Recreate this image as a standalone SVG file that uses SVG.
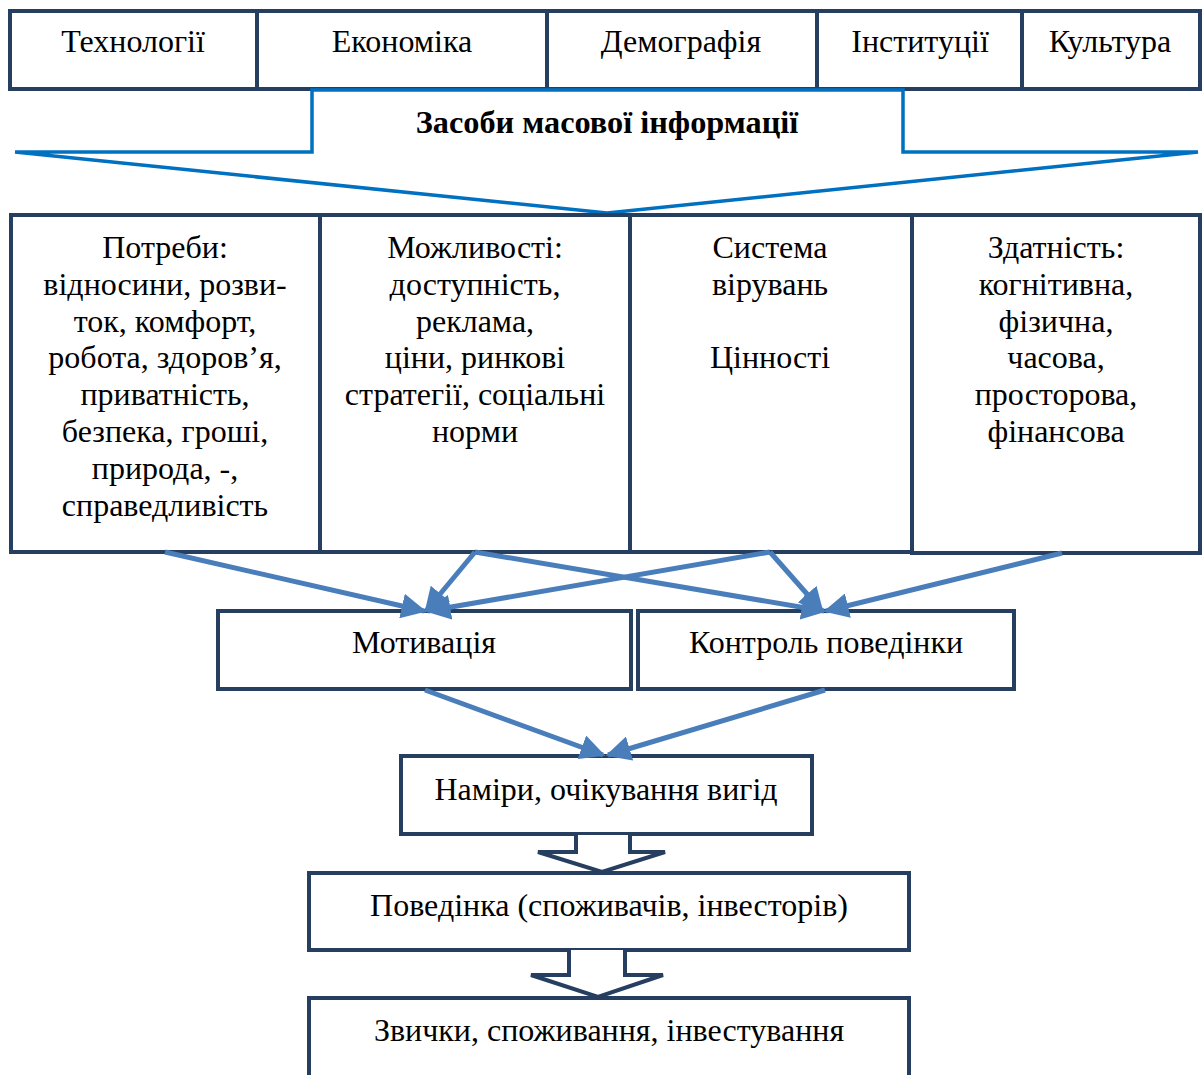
<svg xmlns="http://www.w3.org/2000/svg" width="1204" height="1075" viewBox="0 0 1204 1075">
  <style>
    .box { fill: #ffffff; stroke: #263f61; stroke-width: 4; }
    .t { font-family: "Liberation Serif", "Times New Roman", serif; font-size: 32px; fill: #000; text-anchor: middle; dominant-baseline: central; }
    .b { font-weight: bold; font-size: 32.3px; }
    .media { fill: none; stroke: #0070c0; stroke-width: 3.5; }
    .link { fill: none; stroke: #4a7ebb; stroke-width: 5; marker-end: url(#head); }
    .block { fill: #ffffff; stroke: #263f61; stroke-width: 4; stroke-linejoin: miter; }
  </style>
  <defs>
    <marker id="head" viewBox="0 0 10 10" refX="9" refY="5" markerWidth="5" markerHeight="5" orient="auto" markerUnits="strokeWidth">
      <path d="M0,0 L10,5 L0,10 Z" fill="#4a7ebb"/>
    </marker>
  </defs>
  <rect width="1204" height="1075" fill="#ffffff"/>

  <!-- factor row -->
  <g id="tech"><rect class="box" x="10" y="11" width="247" height="78"/><text class="t" x="133" y="41">Технології</text></g>
  <g id="economy"><rect class="box" x="257" y="11" width="290" height="78"/><text class="t" x="402" y="41">Економіка</text></g>
  <g id="demography"><rect class="box" x="547" y="11" width="270" height="78"/><text class="t" x="681" y="41">Демографія</text></g>
  <g id="institutions"><rect class="box" x="817" y="11" width="205" height="78"/><text class="t" x="920" y="41">Інституції</text></g>
  <g id="culture"><rect class="box" x="1022" y="11" width="178" height="78"/><text class="t" x="1110" y="41">Культура</text></g>

  <!-- mass media funnel -->
  <g id="media">
    <path class="media" d="M15,152 H312 V90 H903 V152 H1198 L607,213 L15,152"/>
    <text class="t b" x="607" y="122">Засоби масової інформації</text>
  </g>

  <!-- determinant columns -->
  <g id="needs">
    <rect class="box" x="11" y="215" width="309" height="337"/>
    <text class="t" x="165" y="247">Потреби:</text>
    <text class="t" x="165" y="284">відносини, розви-</text>
    <text class="t" x="165" y="321">ток, комфорт,</text>
    <text class="t" x="165" y="357">робота, здоров’я,</text>
    <text class="t" x="165" y="394">приватність,</text>
    <text class="t" x="165" y="431">безпека, гроші,</text>
    <text class="t" x="165" y="468">природа, -,</text>
    <text class="t" x="165" y="505">справедливість</text>
  </g>
  <g id="opportunities">
    <rect class="box" x="320" y="215" width="310" height="337"/>
    <text class="t" x="475" y="247">Можливості:</text>
    <text class="t" x="475" y="284">доступність,</text>
    <text class="t" x="475" y="321">реклама,</text>
    <text class="t" x="475" y="357">ціни, ринкові</text>
    <text class="t" x="475" y="394">стратегії, соціальні</text>
    <text class="t" x="475" y="431">норми</text>
  </g>
  <g id="beliefs">
    <rect class="box" x="630" y="215" width="282" height="337"/>
    <text class="t" x="770" y="247">Система</text>
    <text class="t" x="770" y="284">вірувань</text>
    <text class="t" x="770" y="357">Цінності</text>
  </g>
  <g id="ability">
    <rect class="box" x="912" y="215" width="288" height="338"/>
    <text class="t" x="1056" y="247">Здатність:</text>
    <text class="t" x="1056" y="284">когнітивна,</text>
    <text class="t" x="1056" y="321">фізична,</text>
    <text class="t" x="1056" y="357">часова,</text>
    <text class="t" x="1056" y="394">просторова,</text>
    <text class="t" x="1056" y="431">фінансова</text>
  </g>

  <!-- intermediate stages -->
  <g id="motivation"><rect class="box" x="218" y="611" width="413" height="78"/><text class="t" x="424" y="642">Мотивація</text></g>
  <g id="control"><rect class="box" x="638" y="611" width="376" height="78"/><text class="t" x="826" y="642">Контроль поведінки</text></g>
  <g id="intentions"><rect class="box" x="401" y="756" width="411" height="78"/><text class="t" x="606" y="789">Наміри, очікування вигід</text></g>
  <g id="behaviour"><rect class="box" x="309" y="873" width="600" height="77"/><text class="t" x="609" y="905">Поведінка (споживачів, інвесторів)</text></g>
  <g id="habits"><rect class="box" x="309" y="998" width="600" height="82"/><text class="t" x="609" y="1030">Звички, споживання, інвестування</text></g>

  <!-- connectors -->
  <g id="connectors">
    <line class="link" x1="165" y1="552" x2="424" y2="611"/>
    <line class="link" x1="475" y1="552" x2="426" y2="611"/>
    <line class="link" x1="770" y1="552" x2="428" y2="611"/>
    <line class="link" x1="475" y1="552" x2="824" y2="611"/>
    <line class="link" x1="770" y1="552" x2="822" y2="611"/>
    <line class="link" x1="1062" y1="553" x2="826" y2="611"/>
    <line class="link" x1="425" y1="690" x2="603" y2="755"/>
    <line class="link" x1="825" y1="690" x2="608" y2="755"/>
    <path class="block" d="M576,835 V852 H538 L602,872 L665,852 H630 V835"/>
    <path class="block" d="M569,950 V975 H531 L598,997 L663,975 H625 V950"/>
  </g>
</svg>
